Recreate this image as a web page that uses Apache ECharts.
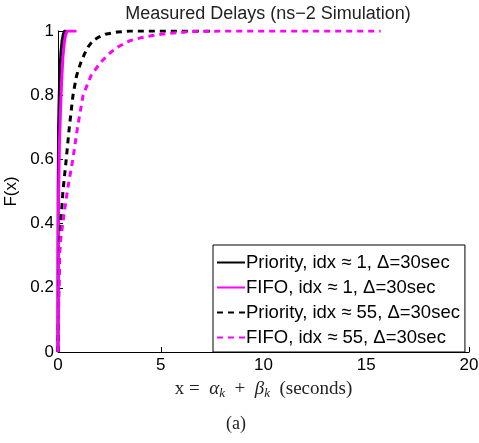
<!DOCTYPE html>
<html><head><meta charset="utf-8">
<script src="https://cdn.jsdelivr.net/npm/echarts@6/dist/echarts.min.js"></script>
<style>html,body{margin:0;padding:0;background:#fff}#c{width:479px;height:443px}</style>
</head><body><div id="c"></div>
<script>
const seriesNames = [
  'Priority, idx \u2248 1, \u0394=30sec',
  'FIFO, idx \u2248 1, \u0394=30sec',
  'Priority, idx \u2248 55, \u0394=30sec',
  'FIFO, idx \u2248 55, \u0394=30sec'
];
const xTicks = [0, 5, 10, 15, 20];
const yTicks = [0, 0.2, 0.4, 0.6, 0.8, 1];

const priority1 = [[0,0],[0.005,0.3],[0.01,0.5],[0.03,0.7],[0.06,0.8],[0.1,0.88],[0.14,0.93],[0.2,0.97],[0.26,0.99],[0.32,1],[0.4,1]];
const fifo1 = [[0,0],[0.01,0.3],[0.03,0.5],[0.07,0.65],[0.12,0.75],[0.18,0.85],[0.24,0.92],[0.3,0.96],[0.36,0.985],[0.44,1],[0.9,1]];
const priority55 = [[0,0],[0.02,0.1],[0.04,0.2],[0.07,0.3],[0.13,0.4],[0.24,0.5],[0.4,0.6],[0.55,0.7],[0.73,0.8],[0.9,0.86],[1.1,0.9],[1.3,0.93],[1.46,0.95],[1.7,0.97],[1.95,0.98],[2.3,0.99],[2.9,0.997],[3.5,1],[7.6,1]];
const fifo55 = [[0,0],[0.02,0.1],[0.04,0.2],[0.07,0.3],[0.11,0.34],[0.23,0.4],[0.45,0.5],[0.72,0.6],[0.95,0.7],[1.22,0.8],[1.6,0.86],[2.04,0.9],[2.5,0.93],[2.9,0.95],[3.5,0.97],[4.1,0.98],[5,0.99],[6.4,0.998],[8,1],[15.7,1]];

const chart = echarts.init(document.getElementById('c'), null, {renderer:'canvas'});
const font = 'Liberation Sans, Arial, Helvetica, sans-serif';
const serif = 'Liberation Serif, DejaVu Serif, serif';
const mk = (name, data, color, type) => ({
  name, type:'line', data, symbol:'none', smooth:false,
  lineStyle:{color, width:3, type: type==='dashed' ? [6,5] : 'solid'},
  itemStyle:{color}
});
chart.setOption({
  animation:false,
  title:{text:'Measured Delays (ns\u22122 Simulation)', left:263, top:0, textAlign:'center',
    textStyle:{fontFamily:font, fontSize:18, fontWeight:'normal', color:'#222'}},
  grid:{left:58, right:10, top:31, bottom:91, containLabel:false, outerBoundsMode:'none'},
  legend:{
    orient:'vertical', left:213, top:245,
    backgroundColor:'#fff', borderColor:'#000', borderWidth:1,
    padding:[8,5,5,3], itemGap:6, itemWidth:28, itemHeight:18,
    itemStyle:{opacity:0},
    textStyle:{fontFamily:font, fontSize:18.5, color:'#000', padding:[0,0,0,-4]},
    data: seriesNames
  },
  xAxis:{type:'value', min:xTicks[0], max:xTicks[xTicks.length-1], interval:5,
    axisLine:{lineStyle:{color:'#000', width:1}},
    axisTick:{inside:true, length:5, lineStyle:{color:'#000'}},
    axisLabel:{fontFamily:font, fontSize:17, color:'#000', margin:5},
    splitLine:{show:false},
    name:'{r|x }{r|=  }{i|\u03b1}{s|k}{r|  +  }{i|\u03b2}{s|k}{r|  (seconds)}', nameLocation:'middle', nameGap:26,
    nameTextStyle:{rich:{
      r:{fontFamily:serif, fontSize:19, color:'#222'},
      i:{fontFamily:serif, fontSize:19, fontStyle:'italic', color:'#222'},
      s:{fontFamily:serif, fontSize:13, fontStyle:'italic', color:'#222', verticalAlign:'bottom', padding:[9,0,0,0]}
    }}
  },
  yAxis:{type:'value', min:yTicks[0], max:yTicks[yTicks.length-1], interval:0.2,
    axisLine:{show:true, lineStyle:{color:'#000', width:1}},
    axisTick:{show:true, inside:true, length:5, lineStyle:{color:'#000'}},
    axisLabel:{fontFamily:font, fontSize:17, color:'#000', margin:4,
      formatter:v => (v===0?'0':v===1?'1':v.toFixed(1))},
    splitLine:{show:false},
    name:'F(x)', nameLocation:'middle', nameGap:33, nameRotate:90,
    nameTextStyle:{fontFamily:font, fontSize:17, color:'#000'}
  },
  graphic:[{type:'text', left:226, top:415, style:{text:'(a)', fontFamily:serif, fontSize:18, fill:'#222'}}],
  series:[
    mk(seriesNames[0], priority1, '#000', 'solid'),
    mk(seriesNames[1], fifo1, '#ff00ff', 'solid'),
    mk(seriesNames[2], priority55, '#000', 'dashed'),
    mk(seriesNames[3], fifo55, '#ff00ff', 'dashed')
  ]
});
</script></body></html>
